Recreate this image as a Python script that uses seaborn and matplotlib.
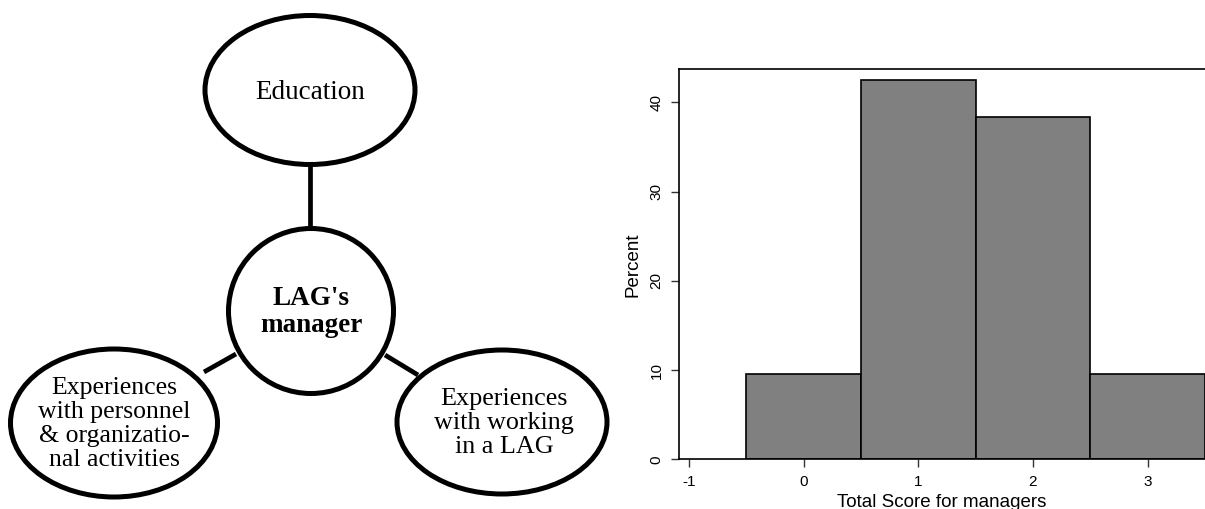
import matplotlib
matplotlib.use("Agg")
import matplotlib.pyplot as plt
from matplotlib.patches import Ellipse
import seaborn as sns

# histogram data (percent of managers per total score)
scores = [0, 1, 2, 3]
percent = [9.6, 42.5, 38.4, 9.6]
bin_edges = [-0.5, 0.5, 1.5, 2.5, 3.5]
xtick_vals = [-1, 0, 1, 2, 3]
ytick_vals = [0, 10, 20, 30, 40]

# diagram nodes
node_labels = [
    "Education",
    "LAG's\nmanager",
    "Experiences\nwith personnel\n& organizatio-\nnal activities",
    "Experiences\nwith working\nin a LAG",
]
node_bold = [False, True, False, False]

sns.set_style("ticks")
plt.rcParams["font.family"] = ["Liberation Sans", "DejaVu Sans"]
plt.rcParams["text.color"] = "black"
plt.rcParams["axes.labelcolor"] = "black"

W, H = 1205, 509
fig = plt.figure(figsize=(W / 100, H / 100), dpi=100)

# ---- left: concept diagram, drawn in pixel coordinates ----
ax_d = fig.add_axes([0, 0, 1, 1])
ax_d.set_xlim(0, W)
ax_d.set_ylim(H, 0)
ax_d.axis("off")

centers = [(310, 90), (311, 311), (114, 423), (502, 422)]
sizes = [(210, 149), (165, 165), (207, 148), (210, 144)]
text_pos = [(310, 92), (311, 312), (114, 424), (504, 423)]
font_sz = [19.5, 19.5, 18.5, 18.8]

edges = [((310, 166), (310, 229)),
         ((204, 372), (236, 354)),
         ((385, 355), (418, 375))]
for (x0, y0), (x1, y1) in edges:
    ax_d.plot([x0, x1], [y0, y1], color="black", lw=3.4, solid_capstyle="butt")

for (cx, cy), (w, h) in zip(centers, sizes):
    ax_d.add_patch(Ellipse((cx, cy), w, h, facecolor="white",
                           edgecolor="black", lw=3.6, zorder=3))

for lab, (tx, ty), bold, fs in zip(node_labels, text_pos, node_bold, font_sz):
    ax_d.text(tx, ty, lab, ha="center", va="center", fontsize=fs,
              family=["Liberation Serif", "DejaVu Serif"],
              fontweight="bold" if bold else "normal",
              linespacing=1.1, color="black", zorder=4)

# ---- right: histogram ----
ax = fig.add_axes([679 / W, (H - 459.3) / H, (W - 679) / W, 390 / H])
sns.histplot(x=scores, weights=percent, bins=bin_edges, ax=ax,
             color="#808080", edgecolor="black", linewidth=1.2, alpha=1)
ax.set_xlim(-1.087, 3.5)
ax.set_ylim(0, 43.7)
ax.set_xticks(xtick_vals)
ax.set_xticklabels([str(v) for v in xtick_vals])
ax.set_yticks(ytick_vals)
ax.set_yticklabels([str(v) for v in ytick_vals], rotation=90, va="center")
ax.tick_params(axis="both", labelsize=11, length=6, width=1, pad=5,
               color="#333333", labelcolor="black")
ax.set_xlabel("Total Score for managers", fontsize=13.5, labelpad=4)
ax.set_ylabel("Percent", fontsize=13.5, labelpad=6)
for s in ["left", "top", "bottom"]:
    ax.spines[s].set_visible(True)
    ax.spines[s].set_linewidth(1.2)
    ax.spines[s].set_color("black")
ax.spines["right"].set_visible(False)

fig.savefig("out.png", dpi=100)
